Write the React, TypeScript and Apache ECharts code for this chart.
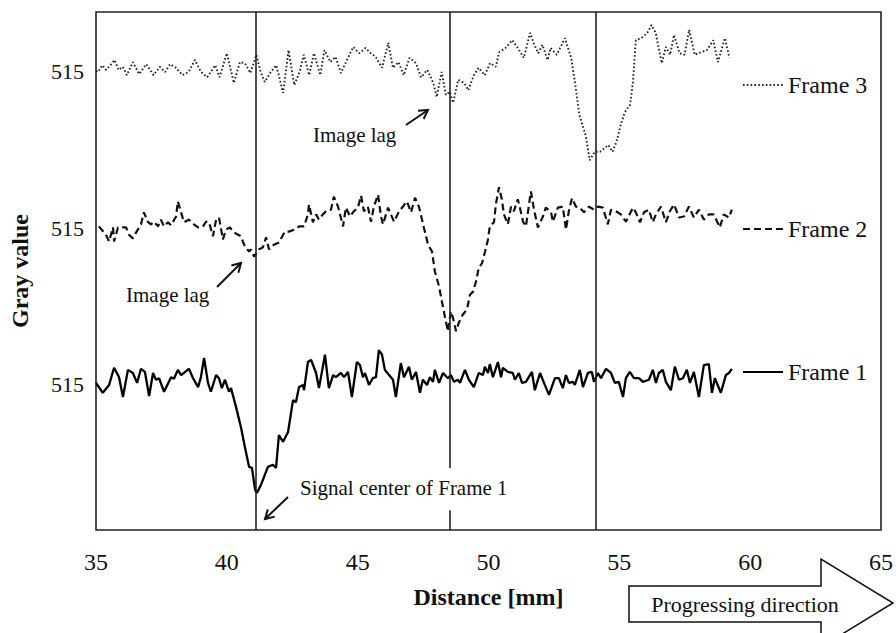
import React, { useEffect, useRef } from "react";
import * as echarts from "echarts";

// ---- axis / layout constants ----
const X_MIN = 35;
const X_MAX = 65;
const X_INTERVAL = 5;
const Y_MIN = 487.2;
const Y_MAX = 586.5;
const BASELINE = 515;
const FRAME_OFFSETS = [0, 30, 60]; // Frame 1, Frame 2, Frame 3 vertical offsets (gray units)
const Y_LABEL_VALUES = FRAME_OFFSETS.map((o) => BASELINE + o);
const MARKER_X = [41.1, 48.5, 54.1];
const MARKER_GAP = [491.0, 499.1]; // gap in the middle marker line around the annotation text
const SERIES_NAMES = ["Frame 1", "Frame 2", "Frame 3"];

// ---- data: [distance mm, gray value] ----
const frame1: [number, number][] = [
  [35.0, 515.4], [35.26, 513.5], [35.5, 515.0], [35.69, 518.3], [35.88, 516.5], [36.03, 512.7], [36.22, 517.9], [36.41, 517.3], [36.57, 515.4], [36.72, 518.1], [36.87, 517.5], [37.03, 512.9], [37.18, 517.3], [37.29, 516.0], [37.41, 516.3], [37.6, 513.7], [37.87, 516.5], [37.98, 516.2], [38.13, 517.9], [38.25, 516.9], [38.36, 517.3], [38.55, 518.1], [38.71, 516.3], [38.9, 514.6], [39.01, 516.5], [39.13, 520.2], [39.28, 515.4], [39.39, 513.7], [39.59, 516.9], [39.7, 516.3], [39.81, 514.4], [39.93, 516.0], [40.08, 513.7], [40.16, 514.4], [40.35, 510.8], [40.54, 506.9], [40.69, 503.1], [40.85, 499.3], [40.96, 499.1], [41.08, 494.9], [41.15, 494.3], [41.3, 495.8], [41.57, 499.3], [41.76, 499.7], [41.88, 499.1], [41.99, 505.4], [42.15, 504.1], [42.34, 506.0], [42.53, 512.1], [42.64, 511.7], [42.76, 514.6], [42.91, 515.0], [42.95, 514.0], [43.1, 519.4], [43.22, 519.8], [43.41, 517.3], [43.52, 514.4], [43.67, 518.5], [43.75, 520.8], [43.9, 514.4], [44.06, 516.9], [44.17, 516.5], [44.36, 517.3], [44.48, 516.5], [44.63, 517.5], [44.78, 512.7], [44.97, 519.4], [45.09, 518.8], [45.2, 516.5], [45.28, 517.3], [45.43, 515.0], [45.58, 516.3], [45.7, 516.5], [45.81, 521.7], [45.93, 520.8], [46.04, 517.9], [46.2, 516.9], [46.35, 516.0], [46.46, 512.7], [46.65, 519.2], [46.77, 516.5], [46.96, 518.5], [47.07, 516.0], [47.23, 517.5], [47.38, 513.5], [47.49, 516.0], [47.65, 515.0], [47.76, 516.5], [47.88, 515.6], [47.95, 517.9], [48.11, 515.4], [48.26, 517.3], [48.45, 516.3], [48.56, 516.9], [48.68, 515.6], [48.83, 516.0], [48.91, 515.4], [49.1, 517.9], [49.25, 516.0], [49.44, 514.6], [49.63, 517.3], [49.79, 516.9], [49.86, 518.5], [49.98, 517.3], [50.05, 519.0], [50.17, 516.5], [50.36, 519.4], [50.48, 516.5], [50.55, 518.3], [50.74, 517.5], [50.93, 517.3], [51.01, 516.0], [51.16, 517.3], [51.28, 515.4], [51.43, 515.6], [51.66, 517.5], [51.77, 514.0], [51.97, 517.3], [52.12, 515.4], [52.31, 513.1], [52.54, 516.3], [52.69, 516.3], [52.84, 514.4], [52.96, 516.9], [53.07, 515.4], [53.23, 515.6], [53.3, 515.0], [53.49, 517.9], [53.61, 514.6], [53.8, 517.3], [53.95, 517.5], [54.03, 515.6], [54.18, 517.3], [54.3, 516.3], [54.49, 518.1], [54.68, 517.3], [54.83, 515.4], [54.98, 515.6], [55.14, 512.7], [55.25, 516.3], [55.4, 517.5], [55.56, 516.3], [55.75, 516.3], [55.9, 515.6], [56.13, 516.0], [56.28, 517.9], [56.4, 515.4], [56.51, 517.3], [56.66, 517.9], [56.78, 515.6], [56.97, 514.0], [57.12, 518.5], [57.28, 516.0], [57.43, 516.3], [57.58, 517.9], [57.7, 515.4], [57.85, 517.5], [58.04, 512.7], [58.23, 518.8], [58.42, 519.0], [58.54, 513.5], [58.65, 516.3], [58.88, 513.5], [59.07, 516.9], [59.19, 517.3], [59.3, 518.1],
];

const frame2: [number, number][] = [
  [35.11, 515.4], [35.38, 513.8], [35.5, 512.5], [35.65, 515.2], [35.69, 512.5], [35.84, 515.2], [36.15, 515.2], [36.26, 513.8], [36.41, 513.1], [36.53, 514.2], [36.72, 515.8], [36.83, 518.1], [36.99, 516.2], [37.1, 515.8], [37.22, 516.3], [37.37, 515.4], [37.48, 516.7], [37.6, 515.4], [37.75, 516.2], [37.87, 515.6], [38.06, 517.3], [38.13, 520.2], [38.25, 518.1], [38.36, 516.2], [38.55, 516.7], [38.74, 515.8], [38.9, 515.2], [39.09, 515.4], [39.2, 516.3], [39.32, 516.2], [39.47, 513.5], [39.59, 516.7], [39.7, 517.1], [39.85, 512.9], [39.97, 514.8], [40.12, 515.2], [40.23, 514.4], [40.43, 513.8], [40.54, 513.5], [40.69, 511.5], [40.85, 510.6], [40.92, 511.0], [41.04, 509.6], [41.23, 511.0], [41.38, 511.4], [41.5, 513.3], [41.61, 511.0], [41.8, 511.9], [41.99, 512.3], [42.22, 514.4], [42.37, 514.4], [42.6, 514.8], [42.76, 515.4], [42.95, 515.4], [43.1, 517.7], [43.14, 519.6], [43.29, 516.2], [43.41, 517.7], [43.52, 516.7], [43.67, 517.7], [43.79, 518.3], [43.98, 518.6], [44.09, 521.1], [44.25, 519.2], [44.44, 515.4], [44.55, 519.0], [44.71, 517.3], [44.82, 518.1], [45.01, 519.0], [45.13, 521.3], [45.24, 518.3], [45.39, 519.2], [45.51, 516.3], [45.62, 519.2], [45.78, 521.5], [45.89, 517.3], [45.97, 515.8], [46.16, 519.0], [46.27, 517.7], [46.39, 516.3], [46.58, 518.3], [46.73, 519.2], [46.88, 520.2], [47.04, 518.1], [47.19, 520.9], [47.34, 519.2], [47.53, 515.2], [47.69, 511.9], [47.84, 510.6], [47.95, 506.8], [48.11, 503.9], [48.22, 501.0], [48.34, 497.9], [48.45, 495.3], [48.56, 499.1], [48.64, 497.9], [48.76, 495.3], [48.87, 497.0], [49.02, 498.5], [49.18, 499.5], [49.29, 502.3], [49.41, 502.9], [49.52, 504.8], [49.63, 507.5], [49.75, 508.3], [49.86, 510.4], [49.98, 512.9], [50.05, 515.4], [50.21, 516.2], [50.28, 519.6], [50.4, 522.9], [50.51, 520.6], [50.59, 517.7], [50.74, 515.8], [50.86, 519.2], [50.97, 518.3], [51.12, 520.6], [51.2, 519.0], [51.32, 516.3], [51.43, 515.4], [51.62, 522.1], [51.74, 518.6], [51.89, 515.2], [52.08, 517.3], [52.19, 519.0], [52.39, 518.1], [52.46, 516.3], [52.65, 519.0], [52.84, 519.2], [52.96, 514.8], [53.07, 518.3], [53.19, 520.8], [53.34, 519.2], [53.49, 519.0], [53.65, 518.1], [53.84, 519.2], [54.03, 518.6], [54.18, 519.2], [54.37, 519.0], [54.56, 515.8], [54.68, 518.6], [54.87, 518.3], [55.06, 517.7], [55.25, 516.3], [55.52, 519.0], [55.63, 518.1], [55.79, 516.2], [55.94, 518.1], [56.13, 518.6], [56.28, 516.2], [56.4, 517.7], [56.59, 519.2], [56.78, 516.2], [56.93, 518.3], [57.09, 519.6], [57.28, 517.1], [57.47, 517.3], [57.66, 519.2], [57.85, 517.1], [58.04, 518.6], [58.23, 516.7], [58.42, 517.7], [58.61, 517.7], [58.84, 515.2], [58.99, 517.7], [59.19, 517.1], [59.3, 518.6],
];

const frame3: [number, number][] = [
  [35.0, 515.2], [35.08, 515.0], [35.24, 516.3], [35.39, 515.4], [35.55, 516.3], [35.71, 517.3], [35.86, 515.4], [36.02, 516.0], [36.18, 514.4], [36.41, 516.9], [36.65, 514.6], [36.92, 516.5], [37.2, 514.4], [37.44, 516.0], [37.64, 515.0], [37.83, 516.5], [38.06, 515.8], [38.3, 514.4], [38.54, 515.0], [38.78, 517.3], [39.01, 515.0], [39.25, 514.0], [39.56, 516.3], [39.72, 514.0], [40.0, 518.6], [40.27, 512.9], [40.5, 516.9], [40.69, 516.7], [40.9, 514.8], [41.13, 518.3], [41.29, 515.0], [41.45, 513.1], [41.68, 515.0], [41.89, 516.3], [42.15, 511.0], [42.36, 519.2], [42.58, 512.5], [42.78, 515.0], [42.94, 518.3], [43.15, 514.4], [43.33, 518.6], [43.57, 514.4], [43.73, 519.2], [43.96, 516.9], [44.15, 517.9], [44.36, 514.8], [44.59, 517.3], [44.83, 519.8], [45.06, 518.6], [45.3, 519.6], [45.5, 518.6], [45.69, 517.9], [45.93, 515.8], [46.17, 520.6], [46.35, 515.8], [46.56, 516.9], [46.76, 514.4], [46.98, 517.7], [47.23, 516.7], [47.42, 514.0], [47.66, 515.4], [47.89, 512.9], [48.02, 510.2], [48.21, 515.0], [48.37, 510.6], [48.52, 511.2], [48.65, 509.1], [48.84, 513.5], [49.07, 512.9], [49.23, 511.5], [49.44, 514.4], [49.62, 515.8], [49.86, 514.4], [50.06, 516.7], [50.28, 516.0], [50.41, 518.8], [50.65, 519.6], [50.91, 521.1], [51.12, 519.6], [51.35, 517.7], [51.59, 522.5], [51.75, 520.2], [51.9, 518.6], [52.06, 520.2], [52.26, 517.3], [52.37, 519.6], [52.61, 518.3], [52.92, 521.5], [53.16, 517.7], [53.32, 512.5], [53.47, 506.8], [53.71, 502.9], [53.87, 498.1], [54.06, 499.7], [54.26, 499.7], [54.58, 501.0], [54.74, 499.7], [54.89, 501.6], [55.05, 504.8], [55.21, 507.3], [55.41, 508.7], [55.52, 513.1], [55.63, 521.1], [55.84, 521.5], [56.07, 522.5], [56.23, 524.0], [56.39, 522.5], [56.62, 516.7], [56.78, 519.8], [56.94, 518.3], [57.09, 522.1], [57.3, 518.6], [57.49, 518.3], [57.67, 523.1], [57.88, 518.3], [58.12, 518.8], [58.35, 519.2], [58.59, 521.1], [58.77, 516.9], [59.03, 521.5], [59.21, 517.7],
];

const FRAMES = [frame1, frame2, frame3];

const SERIF = '"Liberation Serif", "Times New Roman", serif';
const INK = "#111";

function arrowEls(x1: number, y1: number, x2: number, y2: number) {
  const dx = x2 - x1;
  const dy = y2 - y1;
  const L = Math.hypot(dx, dy);
  const bx = -dx / L;
  const by = -dy / L;
  const h = 10;
  const a = Math.PI / 6;
  const rot = (t: number) => [
    x2 + h * (bx * Math.cos(t) - by * Math.sin(t)),
    y2 + h * (bx * Math.sin(t) + by * Math.cos(t)),
  ];
  return [
    { type: "line", shape: { x1, y1, x2, y2 }, style: { stroke: INK, lineWidth: 2 }, silent: true },
    {
      type: "polyline",
      shape: { points: [rot(a), [x2, y2], rot(-a)] },
      style: { stroke: INK, lineWidth: 2, fill: null },
      silent: true,
    },
  ];
}

function textEl(text: string, x: number, y: number, size: number, align = "left") {
  return {
    type: "text",
    x,
    y,
    silent: true,
    style: {
      text,
      font: `${size}px ${SERIF}`,
      fill: INK,
      align,
      verticalAlign: "middle",
      textAlign: align,
      textVerticalAlign: "middle",
    },
  };
}

export default function App() {
  const ref = useRef<HTMLDivElement>(null);

  useEffect(() => {
    document.body.style.margin = "0";
    if (!ref.current) return;
    const chart = echarts.init(ref.current, null, { renderer: "svg" });

    const lineStyles = [
      { color: "#000", width: 2.3, type: "solid" },
      { color: "#111", width: 2.2, type: [7, 4] },
      { color: "#222", width: 1.9, type: [1.6, 2.2] },
    ];

    const series: any[] = FRAMES.map((data, i) => ({
      name: SERIES_NAMES[i],
      type: "line",
      data: data.map(([x, y]) => [x, y + FRAME_OFFSETS[i]]),
      showSymbol: false,
      symbol: "none",
      lineStyle: lineStyles[i],
      itemStyle: { color: lineStyles[i].color },
      silent: true,
      z: 3,
    }));

    series[0].markLine = {
      silent: true,
      symbol: "none",
      label: { show: false },
      lineStyle: { color: "#222", width: 1.6, type: "solid" },
      data: [
        { xAxis: MARKER_X[0] },
        [{ coord: [MARKER_X[1], Y_MAX] }, { coord: [MARKER_X[1], MARKER_GAP[1]] }],
        [{ coord: [MARKER_X[1], MARKER_GAP[0]] }, { coord: [MARKER_X[1], Y_MIN] }],
        { xAxis: MARKER_X[2] },
      ],
    };

    const legendTops = [372, 229, 85];
    const legends = SERIES_NAMES.map((name, i) => ({
      data: [name],
      left: 742,
      top: legendTops[i] - 12,
      padding: 0,
      itemWidth: 40,
      itemHeight: 14,
      itemGap: 0,
      selectedMode: false,
      itemStyle: {
        color: "rgba(0,0,0,0)",
        borderColor: "rgba(0,0,0,0)",
        borderWidth: 0,
        opacity: 0,
      },
      textStyle: { fontFamily: SERIF, fontSize: 24, color: INK, lineHeight: 24, padding: [0, 0, 0, 0] },
    }));

    const graphic: any[] = [
      textEl("Image lag", 126, 295, 21),
      ...arrowEls(217, 287, 241, 263),
      textEl("Image lag", 313, 135, 21),
      ...arrowEls(406, 125, 428, 110),
      { type: "rect", shape: { x: 296, y: 474, width: 224, height: 28 }, style: { fill: "#fff" }, silent: true, z: 50 },
      { ...textEl("Signal center of Frame 1", 300, 488, 21), z: 51 },
      ...arrowEls(288, 497, 265, 519),
      {
        type: "polygon",
        silent: true,
        shape: {
          points: [
            [629, 586], [821, 586], [821, 559], [893, 603], [821, 647], [821, 622], [629, 622],
          ],
        },
        style: { fill: "#fff", stroke: INK, lineWidth: 1.5 },
      },
      { ...textEl("Progressing direction", 745, 604, 22, "center"), z: 60 },
    ];

    chart.setOption({
      animation: false,
      backgroundColor: "#fff",
      grid: {
        left: 95,
        right: 14,
        top: 12,
        bottom: 103,
        show: true,
        borderColor: "#222",
        borderWidth: 1.6,
        backgroundColor: "transparent",
      },
      legend: legends,
      xAxis: {
        type: "value",
        min: X_MIN,
        max: X_MAX,
        interval: X_INTERVAL,
        name: "Distance [mm]",
        nameLocation: "middle",
        nameGap: 55,
        nameTextStyle: { fontFamily: SERIF, fontSize: 24, fontWeight: "bold", color: INK },
        axisLine: { show: false },
        axisTick: { show: false },
        splitLine: { show: false },
        axisLabel: { fontFamily: SERIF, fontSize: 24, color: INK, margin: 20, showMinLabel: true, showMaxLabel: true },
      },
      yAxis: {
        type: "value",
        min: Y_MIN,
        max: Y_MAX,
        name: "Gray value",
        nameLocation: "middle",
        nameRotate: 90,
        nameGap: 64,
        nameTextStyle: { fontFamily: SERIF, fontSize: 24, fontWeight: "bold", color: INK },
        axisLine: { show: false },
        axisTick: { show: false, customValues: Y_LABEL_VALUES },
        splitLine: { show: false },
        axisLabel: {
          customValues: Y_LABEL_VALUES,
          formatter: () => String(BASELINE),
          fontFamily: SERIF,
          fontSize: 22,
          color: INK,
          margin: 12,
        },
      },
      graphic,
      series,
    });

    return () => chart.dispose();
  }, []);

  return <div ref={ref} style={{ width: 896, height: 633 }} />;
}
